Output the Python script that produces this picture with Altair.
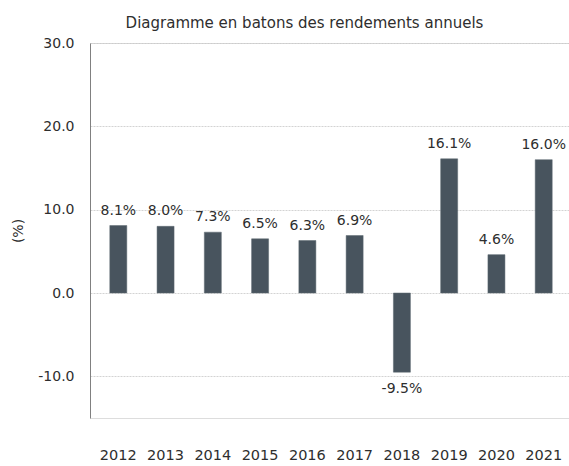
import altair as alt
import pandas as pd

years = ["2012", "2013", "2014", "2015", "2016", "2017", "2018", "2019", "2020", "2021"]
returns = [8.1, 8.0, 7.3, 6.5, 6.3, 6.9, -9.5, 16.1, 4.6, 16.0]
labels = [f"{v:.1f}%" for v in returns]
y_ticks = [-10, 0, 10, 20, 30]

df = pd.DataFrame({"year": years, "ret": returns, "label": labels})

FONT = "DejaVu Sans"
TXT = "#2e2e2e"
BAR = "#48545e"

x_enc = alt.X(
    "year:N",
    sort=years,
    scale=alt.Scale(paddingInner=0.64, paddingOuter=0.387, align=0.541),
    axis=alt.Axis(
        title=None, labelAngle=0, domain=False, ticks=False, tickSize=0,
        labelPadding=30, labelFontSize=14.5, labelFont=FONT, labelColor=TXT,
        grid=False,
    ),
)
y_enc = alt.Y(
    "ret:Q",
    scale=alt.Scale(domain=[-15, 30], nice=False, zero=False),
    axis=alt.Axis(
        title="(%)", values=y_ticks,
        labelExpr="datum.value < 0 ? '-' + format(-datum.value, '.1f') : format(datum.value, '.1f')",
        ticks=False, tickSize=0, labelPadding=16,
        labelFontSize=14, labelFont=FONT, labelColor=TXT,
        titleFontSize=14, titleFont=FONT, titleColor=TXT, titleFontWeight="normal",
        titleX=-72, titleY=187.5, titleBaseline="middle", titleAngle=270,
        domainColor="#808080", domainWidth=1,
        grid=True, gridColor="#c8c8c8", gridDash=[2, 1], gridWidth=0.8,
    ),
)

base = alt.Chart(df)

bars = base.mark_bar(color=BAR, stroke="#5d6870", strokeWidth=0.5).encode(x=x_enc, y=y_enc)

pos_text = base.transform_filter("datum.ret >= 0").mark_text(
    dy=-11, baseline="alphabetic", fontSize=14, font=FONT, color=TXT
).encode(x=x_enc, y=y_enc, text="label:N")

neg_text = base.transform_filter("datum.ret < 0").mark_text(
    dy=21, baseline="alphabetic", fontSize=14, font=FONT, color=TXT
).encode(x=x_enc, y=y_enc, text="label:N")

chart = (
    alt.layer(bars, pos_text, neg_text)
    .properties(
        width=479,
        height=375,
        title=alt.Title(
            "Diagramme en batons des rendements annuels",
            font=FONT, fontSize=15, fontWeight="normal", color=TXT,
            anchor="middle", frame="group", baseline="alphabetic",
            offset=-7, dx=-25,
        ),
        padding={"left": 90, "top": 43, "right": 0, "bottom": 48},
        autosize=alt.AutoSizeParams(type="none"),
    )
    .configure_view(strokeWidth=0, strokeOpacity=0, stroke="transparent")
    .configure(background="white")
)

chart.save("out.html", embed_options={"renderer": "svg", "actions": False})
